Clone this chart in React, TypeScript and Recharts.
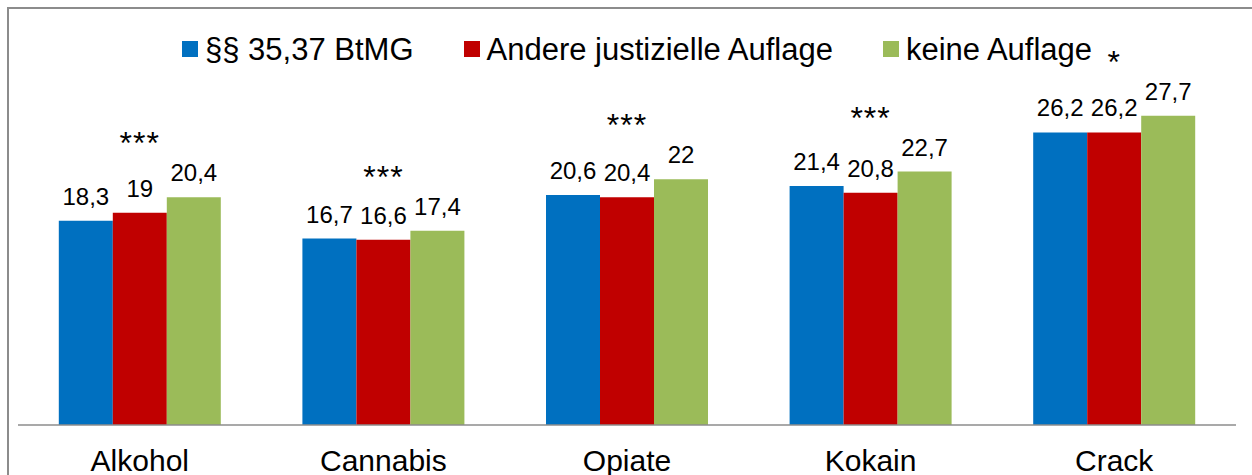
import React from 'react';
import { ComposedChart, Bar, Line, XAxis, YAxis, Legend, LabelList } from 'recharts';

// Durchschnittsalter je Hauptdroge und Auflage
const categories = ['Alkohol', 'Cannabis', 'Opiate', 'Kokain', 'Crack'];
const btmg = [18.3, 16.7, 20.6, 21.4, 26.2];
const andere = [19, 16.6, 20.4, 20.8, 26.2];
const keine = [20.4, 17.4, 22, 22.7, 27.7];
const signifikanz = ['***', '***', '***', '***', '*'];

const seriesKeys = ['btmg', 'andere', 'keine'];
const seriesNames = ['§§ 35,37 BtMG', 'Andere justizielle Auflage', 'keine Auflage'];
const colors = ['#0070C0', '#C00000', '#9BBB59'];

const data = categories.map((name, i) => ({
  name,
  btmg: btmg[i],
  andere: andere[i],
  keine: keine[i],
  sigTop: Math.max(btmg[i], andere[i], keine[i]),
  sig: signifikanz[i],
}));

const fmt = (v: any) => String(v).replace('.', ',');

const SigMarker = (props: any) => {
  const { cx, cy, payload } = props;
  if (cx == null || cy == null) return null;
  return (
    <text x={cx} y={cy - 43} textAnchor="middle" fontSize={32} fill="#000" letterSpacing={1}>
      {payload.sig}
    </text>
  );
};

const CustomLegend = () => (
  <div style={{ display: 'flex', alignItems: 'center', height: 40 }}>
    {seriesNames.map((n, i) => (
      <div key={n} style={{ display: 'flex', alignItems: 'center', marginRight: 50 }}>
        <span style={{ width: 16, height: 16, background: colors[i], marginRight: 7, display: 'inline-block' }} />
        <span style={{ fontSize: 31, lineHeight: '31px', color: '#000', whiteSpace: 'nowrap' }}>{n}</span>
      </div>
    ))}
  </div>
);

export default function App() {
  return (
    <div
      style={{
        position: 'fixed',
        left: 7,
        top: 7,
        width: 1243,
        height: 466,
        borderTop: '2px solid #8c8c8c',
        borderLeft: '2px solid #8c8c8c',
        background: '#fff',
        overflow: 'hidden',
        fontFamily: "'Liberation Sans', Arial, sans-serif",
      }}
    >
      <ComposedChart
        width={1243}
        height={466}
        data={data}
        margin={{ top: 41, right: 16, bottom: 0, left: 9 }}
        barCategoryGap="16.75%"
        barGap={0}
      >
        <XAxis
          dataKey="name"
          axisLine={{ stroke: '#8c8c8c', strokeWidth: 1.5 }}
          tickLine={false}
          tick={{ fontSize: 30, fill: '#000' }}
          tickMargin={19}
          height={50}
          interval={0}
        />
        <YAxis hide domain={[0, 30]} />
        <Legend
          verticalAlign="top"
          content={<CustomLegend />}
          wrapperStyle={{ top: 20, left: 173, height: 40, width: 1000 }}
        />
        {seriesKeys.map((k, i) => (
          <Bar key={k} dataKey={k} name={seriesNames[i]} fill={colors[i]} isAnimationActive={false}>
            <LabelList dataKey={k} position="top" offset={16} fontSize={24} fill="#000" formatter={fmt} />
          </Bar>
        ))}
        <Line
          dataKey="sigTop"
          stroke="none"
          dot={<SigMarker />}
          activeDot={false}
          legendType="none"
          isAnimationActive={false}
        />
      </ComposedChart>
    </div>
  );
}
